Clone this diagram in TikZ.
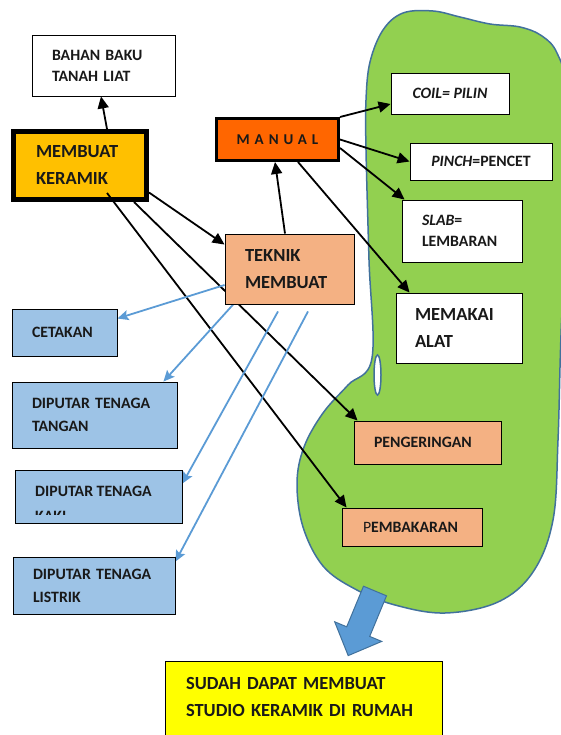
\documentclass[tikz,border=0pt]{standalone}
\usepackage{fontspec}
\setmainfont{Carlito}[BoldFont={Carlito Bold}, ItalicFont={Carlito Italic}, BoldItalicFont={Carlito Bold Italic}]
\usetikzlibrary{arrows.meta,calc}
\definecolor{keramikc}{HTML}{FFC000}
\definecolor{manualc}{HTML}{FF6600}
\definecolor{salmon}{HTML}{F4B183}
\definecolor{lightblue}{HTML}{9DC3E6}
\definecolor{blobgreen}{HTML}{92D050}
\definecolor{blobline}{HTML}{41719C}
\definecolor{arrowblue}{HTML}{5B9BD5}
\definecolor{yellowc}{HTML}{FFFF00}
\pgfdeclarelayer{bg}\pgfdeclarelayer{ln}\pgfsetlayers{bg,ln,main}
\newcommand{\fsm}{\fontsize{15.8}{21}\selectfont\bfseries}
\newcommand{\fbg}{\fontsize{18.5}{27}\selectfont\bfseries}
\begin{document}
\begin{tikzpicture}[x=1pt,y=-1pt,
  box/.style={draw=black, line width=0.9pt, rectangle, inner ysep=0pt, align=left, anchor=center, text=black!90},
  blk/.style={draw=black, line width=1.8pt, -{Triangle[length=12pt,width=11pt]}},
  blu/.style={draw=arrowblue, line width=1.8pt, -{Stealth[length=11pt,width=10pt,inset=2pt]}},
  blockarrow/.style={draw=blobline, fill=arrowblue, line width=1pt, line join=miter}
]
\useasboundingbox (0,0) rectangle (561,735);

\begin{pgfonlayer}{bg}
\draw[draw=blobline, fill=blobgreen, line width=1.5pt] plot[smooth cycle, tension=0.6] coordinates {
 (366,150) (366,100) (370,62) (383,30) (403,13) (433,11) (460,17) (490,24) (520,27) (542,36) (557,53)
 (566,90) (567,200) (561,335) (558,440) (553,520) (533,572) (498,602) (445,613) (395,605) (355,589)
 (323,566) (303,527) (297,483) (304,447) (323,413) (348,385) (372,358) (369,260)};
\draw[draw=blobline, fill=white, line width=1.5pt] (377.5,375) ellipse [x radius=3.5pt, y radius=20pt];
\draw[blockarrow] (363.5,586.2) -- (386.5,595.8) -- (369.7,636.4) -- (381.7,641.4) -- (348.2,655.6) -- (334.7,621.8) -- (346.7,626.8) -- cycle;
\node[box, line width=5pt, fill=keramikc, minimum width=133pt, minimum height=68pt, inner xsep=22.5pt, text width=88pt, font=\fbg] (keramik) at (80,165.5) {MEMBUAT\\KERAMIK};
\end{pgfonlayer}

\node[box, fill=white, minimum width=143pt, minimum height=61pt, inner xsep=20pt, text width=103pt, font=\fsm] (bahan) at (103.5,65.5) {BAHAN BAKU\\TANAH LIAT};
\node[box, line width=3pt, fill=manualc, minimum width=122pt, minimum height=42pt, align=center, font={\fontsize{15}{18}\selectfont\bfseries\addfontfeature{LetterSpace=33}}] (manual) at (277.5,139.5) {MANUAL};
\node[box, fill=salmon, minimum width=129pt, minimum height=70pt, inner xsep=20pt, text width=89pt, font=\fbg] (teknik) at (289.5,269) {TEKNIK\\MEMBUAT};
\node[box, fill=white, minimum width=118pt, minimum height=41pt, align=center, font=\fsm] (coil) at (450,93.5) {\itshape COIL= PILIN};
\node[box, fill=white, minimum width=142pt, minimum height=37pt, align=center, font=\fsm] (pinch) at (481,161.5) {{\itshape PINCH}=PENCET};
\node[box, fill=white, minimum width=120pt, minimum height=62pt, inner xsep=20pt, text width=80pt, font=\fsm] (slab) at (462,231) {{\itshape SLAB}=\\LEMBARAN};
\node[box, fill=white, minimum width=126pt, minimum height=70pt, inner xsep=19pt, text width=88pt, font=\fbg] (memakai) at (459,328) {MEMAKAI\\ALAT};
\node[box, fill=lightblue, minimum width=105pt, minimum height=47pt, inner xsep=20pt, text width=65pt, font=\fsm] (cetakan) at (64.5,332.5) {CETAKAN};
\node[box, fill=lightblue, minimum width=165pt, minimum height=66pt, inner xsep=20pt, text width=125pt, font={\fontsize{15.8}{23}\selectfont\bfseries}] (tangan) at (94.5,415) {DIPUTAR TENAGA\\TANGAN};
\node[box, fill=lightblue, minimum width=167pt, minimum height=53pt] (kaki) at (98.5,496.5) {};
\begin{scope}
\clip (15,470) rectangle (182,514.5);
\node[anchor=west, inner sep=0pt, align=left, text=black!90, font={\fontsize{15.8}{25}\selectfont\bfseries}] (kakitext) at (35,503.5) {DIPUTAR TENAGA\\KAKI};
\end{scope}
\node[box, fill=lightblue, minimum width=162pt, minimum height=57pt, inner xsep=20pt, text width=122pt, font={\fontsize{15.8}{23}\selectfont\bfseries}] (listrik) at (94,585.5) {DIPUTAR TENAGA\\LISTRIK};
\node[box, fill=salmon, minimum width=147pt, minimum height=43pt, inner xsep=20pt, text width=107pt, font=\fsm] (pengeringan) at (427.5,442.5) {PENGERINGAN};
\node[box, fill=salmon, minimum width=140pt, minimum height=38pt, inner xsep=21pt, text width=98pt, font=\fsm] (pembakaran) at (412,527) {{\mdseries P}EMBAKARAN};
\node[box, fill=yellowc, minimum width=277pt, minimum height=125pt, inner xsep=21pt, text width=235pt, font=\fbg] (sudah) at (303.5,723.5) {SUDAH DAPAT MEMBUAT\\STUDIO KERAMIK DI RUMAH\\~\\~};

\begin{pgfonlayer}{ln}
\draw[blk] ([xshift=27pt]keramik.north) -- ([xshift=-2.5pt]bahan.south);
\draw[blk] ([yshift=-27pt]keramik.east) -- ([yshift=-11pt]teknik.north west);
\draw[blk] ([xshift=-4.5pt]teknik.north) -- ([xshift=-2.5pt]manual.south);
\draw[blk] (manual.north east) -- ([yshift=-10.5pt]coil.west);
\draw[blk] (manual.east) -- (pinch.west);
\draw[blk] ([yshift=-8.5pt]manual.east) -- ([xshift=3pt]slab.north west);
\draw[blk] ([xshift=20.5pt]manual.south) -- ([xshift=14pt]memakai.north west);
\draw[blk] ([xshift=27pt,yshift=-27.5pt]keramik.center) -- ([xshift=5pt]pembakaran.north west);
\draw[blk] ([xshift=54pt]keramik.south) -- ([xshift=4pt]pengeringan.north west);
\draw[blu] ([yshift=-16pt]teknik.west) -- ([yshift=14pt]cetakan.east);
\draw[blu] ([xshift=15pt,yshift=7pt]teknik.south west) -- ([xshift=-14pt]tangan.north east);
\draw[blu] ([xshift=-11.5pt,yshift=-7pt]teknik.south) -- ([yshift=13pt]kaki.east);
\draw[blu] ([xshift=18.5pt,yshift=-7pt]teknik.south) -- ([yshift=-5pt]listrik.north east);
\end{pgfonlayer}
\end{tikzpicture}
\end{document}
